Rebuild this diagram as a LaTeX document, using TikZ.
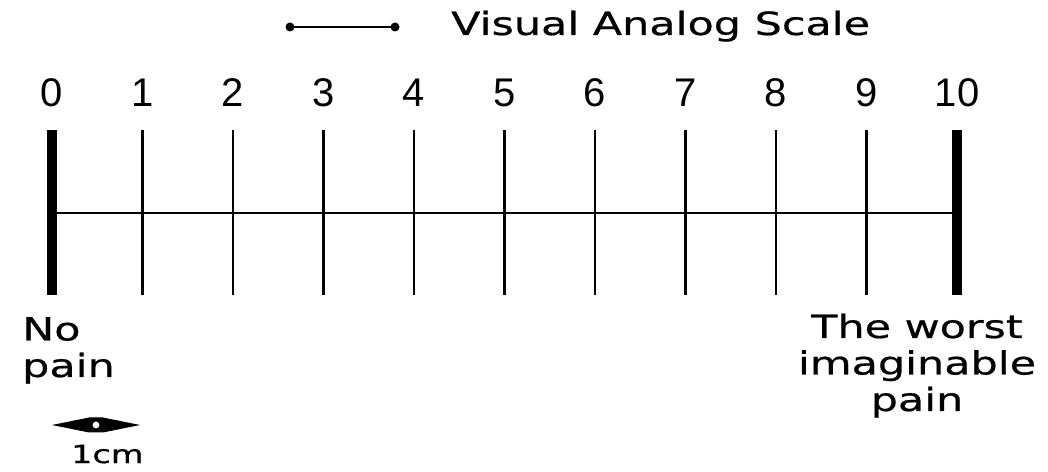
\documentclass[tikz,border=0pt]{standalone}
\usepackage{fontspec}
\setmainfont{DejaVu Sans}
\newfontfamily\widefont[FakeStretch=1.34,FakeBold=0.6]{DejaVu Sans}
\newfontfamily\numfont{Liberation Sans}
\begin{document}
\begin{tikzpicture}[x=1bp,y=-1bp,
  num/.style={inner sep=0pt,anchor=base,font=\numfont\fontsize{40bp}{48bp}\selectfont},
  lbl/.style={inner sep=0pt,font=\widefont\fontsize{32bp}{36.5bp}\selectfont},
  small/.style={inner sep=0pt,font=\widefont\fontsize{25bp}{28bp}\selectfont},
  tickline/.style={line width=2.8bp},
  barline/.style={line width=10bp},
  axisline/.style={line width=2.3bp}]
\useasboundingbox (0,0) rectangle (1048,472);
\fill[white] (0,0) rectangle (1048,472);
% scale
\foreach \i in {0,...,10}{
  \coordinate (t\i) at ({52+90.5*\i},130);
  \coordinate (b\i) at ({52+90.5*\i},295);
  \node[num] (n\i) at ({52+90.5*\i},107) {\i};
}
\coordinate (h0) at (52,213);
\coordinate (h10) at (957,213);
\draw[axisline] (h0) -- (h10);
\foreach \i in {1,...,9}{ \draw[tickline] (t\i) -- (b\i); }
\draw[barline] (t0) -- (b0);
\draw[barline] (t10) -- (b10);
% legend
\coordinate (la) at (290,27);
\coordinate (lb) at (395,27);
\draw[line width=2.2bp] (la) -- (lb);
\fill (la) circle (4.5);
\fill (lb) circle (4.5);
\node[lbl,anchor=base west] (title) at (451,35) {Visual Analog Scale};
% end labels (base anchor = last line)
\node[lbl,anchor=base west,align=left] (nopain) at (22,377) {No\\pain};
\node[lbl,anchor=base,align=center] (worst) at (917,411) {The worst\\imaginable\\pain};
% 1cm marker
\coordinate (ac) at (96,425);
\fill (52,425) -- (89,417.5) -- (103,417.5) -- (140,425) -- (103,432.5) -- (89,432.5) -- cycle;
\fill[white] (ac) circle (3.4);
\node[small,anchor=base west] (cm) at (71,463) {1cm};
\end{tikzpicture}
\end{document}
